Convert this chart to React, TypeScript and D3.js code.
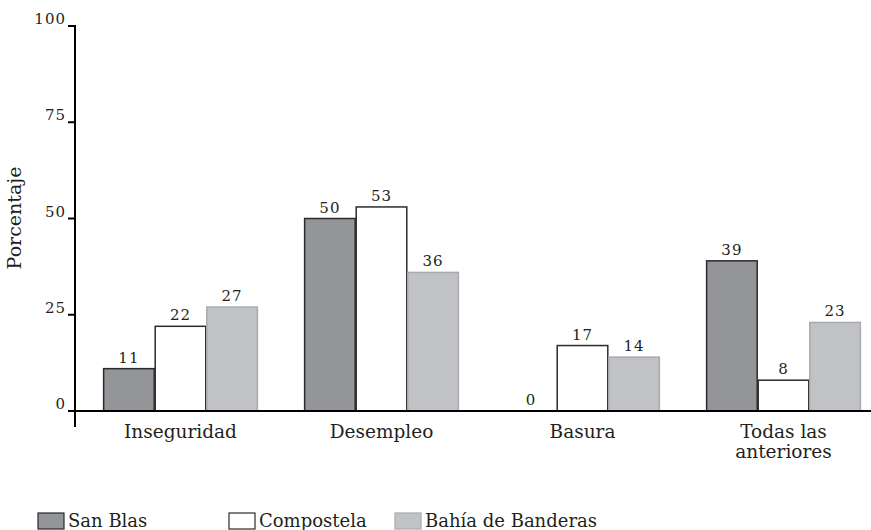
import React, { useEffect, useRef } from 'react';
import * as d3 from 'd3';

const categories = ['Inseguridad', 'Desempleo', 'Basura', 'Todas las anteriores'];
const series = ['San Blas', 'Compostela', 'Bahía de Banderas'];
const sanBlas = [11, 50, 0, 39];
const compostela = [22, 53, 17, 8];
const bahia = [27, 36, 14, 23];
const yTicks = [0, 25, 50, 75, 100];

const fills = ['#939598', '#ffffff', '#c1c2c6'];
const strokes = ['#2b2b2b', '#2b2b2b', '#a9aaad'];
const font = 'DejaVu Serif, serif';

const App = () => {
  const ref = useRef<SVGSVGElement>(null);

  useEffect(() => {
    document.body.style.margin = '0';
    const svg = d3.select(ref.current);
    svg.selectAll('*').remove();

    const width = 871;
    const height = 530;
    const values = [sanBlas, compostela, bahia];

    const x0 = d3.scaleBand<string>()
      .domain(categories)
      .range([80, 884])
      .paddingInner(0.23)
      .paddingOuter(0.115);
    const x1 = d3.scaleBand<string>()
      .domain(series)
      .range([0, x0.bandwidth()]);
    const y = d3.scaleLinear().domain([0, 100]).range([411, 26]);

    svg.attr('width', width).attr('height', height);

    // bars
    categories.forEach((cat, ci) => {
      const g = svg.append('g').attr('transform', `translate(${x0(cat)},0)`);
      series.forEach((s, si) => {
        const v = values[si][ci];
        if (v > 0) {
          g.append('rect')
            .attr('x', x1(s)! + 0.5)
            .attr('y', y(v))
            .attr('width', x1.bandwidth() - 1)
            .attr('height', y(0) - y(v))
            .attr('fill', fills[si])
            .attr('stroke', strokes[si])
            .attr('stroke-width', 1.5);
        }
        g.append('text')
          .attr('x', x1(s)! + x1.bandwidth() / 2)
          .attr('y', y(v) - 6)
          .attr('text-anchor', 'middle')
          .attr('font-family', font)
          .attr('font-size', 15)
          .attr('letter-spacing', 1)
          .attr('fill', '#231f20')
          .text(v);
      });
    });

    // axes
    svg.append('line')
      .attr('x1', 75).attr('x2', 75)
      .attr('y1', y(100) - 1).attr('y2', 427)
      .attr('stroke', '#000').attr('stroke-width', 2);
    svg.append('line')
      .attr('x1', 68).attr('x2', 871)
      .attr('y1', y(0)).attr('y2', y(0))
      .attr('stroke', '#000').attr('stroke-width', 2.2);

    const ticks = svg.append('g');
    yTicks.forEach(t => {
      ticks.append('line')
        .attr('x1', 68).attr('x2', 75)
        .attr('y1', y(t)).attr('y2', y(t))
        .attr('stroke', '#000').attr('stroke-width', 2);
      ticks.append('text')
        .attr('x', 66)
        .attr('y', y(t) - 2)
        .attr('text-anchor', 'end')
        .attr('font-family', font)
        .attr('font-size', 15)
        .attr('letter-spacing', 1)
        .attr('fill', '#231f20')
        .text(t);
    });

    // category labels
    categories.forEach(cat => {
      const cx = x0(cat)! + x0.bandwidth() / 2;
      const lines = cat === 'Todas las anteriores' ? ['Todas las', 'anteriores'] : [cat];
      lines.forEach((ln, i) => {
        svg.append('text')
          .attr('x', cx)
          .attr('y', 438 + i * 20)
          .attr('text-anchor', 'middle')
          .attr('font-family', font)
          .attr('font-size', 18.5)
          .attr('fill', '#231f20')
          .text(ln);
      });
    });

    // y label
    svg.append('text')
      .attr('transform', `translate(21,218) rotate(-90)`)
      .attr('text-anchor', 'middle')
      .attr('font-family', font)
      .attr('font-size', 19)
      .attr('fill', '#231f20')
      .text('Porcentaje');

    // legend
    const legendX = [38, 229, 395];
    series.forEach((s, si) => {
      svg.append('rect')
        .attr('x', legendX[si]).attr('y', 513)
        .attr('width', 26).attr('height', 16)
        .attr('fill', fills[si])
        .attr('stroke', strokes[si])
        .attr('stroke-width', 1.2);
      svg.append('text')
        .attr('x', legendX[si] + 30)
        .attr('y', 527)
        .attr('font-family', font)
        .attr('font-size', 18)
        .attr('fill', '#231f20')
        .text(s);
    });
  }, []);

  return <svg ref={ref} style={{ display: 'block' }} />;
};

export default App;
